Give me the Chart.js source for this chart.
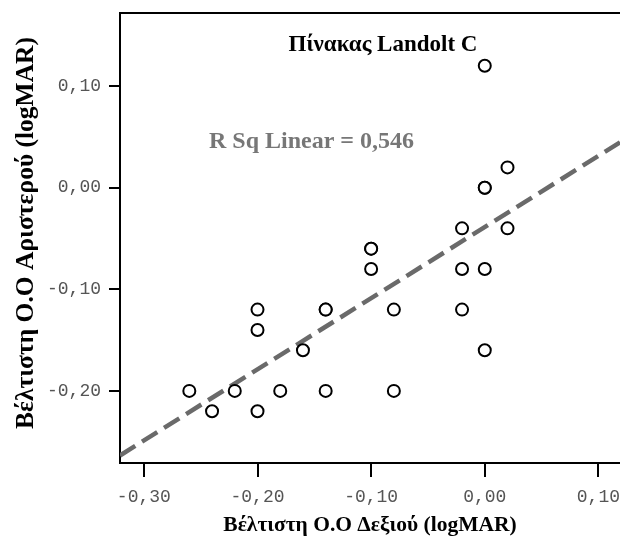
<!DOCTYPE html>
<html>
<head>
<meta charset="utf-8">
<script src="https://cdn.jsdelivr.net/npm/chart.js@4/dist/chart.umd.min.js"></script>
<style>
  html, body { margin: 0; padding: 0; background: #fff; }
</style>
</head>
<body>
<canvas id="diagramma" width="620" height="542"></canvas>
<script>
// Βέλτιστη Ο.Ο Δεξιού (x) / Αριστερού (y), logMAR
const dexio     = [0.00, 0.02, 0.00, 0.00, -0.02, 0.02, -0.10, -0.10, -0.10, -0.02, 0.00, -0.20, -0.14, -0.14, -0.08, -0.02, -0.20, -0.16, 0.00, -0.26, -0.22, -0.18, -0.14, -0.08, -0.24, -0.20];
const aristero  = [0.12, 0.02, 0.00, 0.00, -0.04, -0.04, -0.06, -0.06, -0.08, -0.08, -0.08, -0.12, -0.12, -0.12, -0.12, -0.12, -0.14, -0.16, -0.16, -0.20, -0.20, -0.20, -0.20, -0.20, -0.22, -0.22];
const xTicks = [-0.30, -0.20, -0.10, 0.00, 0.10];
const yTicks = [-0.20, -0.10, 0.00, 0.10];
const xMin = -0.321, xMax = 0.119;
const yMin = -0.271, yMax = 0.172;
const titlos = 'Πίνακας Landolt C';
const rsqText = 'R Sq Linear = 0,546';
const xTitlos = 'Βέλτιστη Ο.Ο Δεξιού (logMAR)';
const yTitlos = 'Βέλτιστη Ο.Ο Αριστερού (logMAR)';

// ευθεία ελαχίστων τετραγώνων
const n = dexio.length;
const mx = dexio.reduce((a, b) => a + b, 0) / n;
const my = aristero.reduce((a, b) => a + b, 0) / n;
let sxy = 0, sxx = 0;
for (let i = 0; i < n; i++) {
  sxy += (dexio[i] - mx) * (aristero[i] - my);
  sxx += (dexio[i] - mx) * (dexio[i] - mx);
}
const klisi = sxy / sxx;
const tomi = my - klisi * mx;
const grammi = [xMin, xMax].map(x => ({ x: x, y: tomi + klisi * x }));

const fmt = v => v.toFixed(2).replace('.', ',');

const keimena = {
  id: 'keimena',
  afterDraw(chart) {
    const ctx = chart.ctx;
    const a = chart.chartArea;
    ctx.save();
    // πάνω πλαίσιο
    ctx.strokeStyle = '#000';
    ctx.lineWidth = 2;
    ctx.beginPath();
    ctx.moveTo(a.left - 1, a.top);
    ctx.lineTo(a.right, a.top);
    ctx.stroke();

    // ετικέτες άξονα x (χωρίς να στενεύει η περιοχή)
    ctx.fillStyle = '#555';
    ctx.textAlign = 'center';
    ctx.textBaseline = 'top';
    ctx.font = '18px "Liberation Mono"';
    xTicks.forEach(v => {
      ctx.fillText(fmt(v), chart.scales.x.getPixelForValue(v), a.bottom + 25);
    });

    ctx.textBaseline = 'alphabetic';
    ctx.fillStyle = '#000';
    ctx.textAlign = 'center';
    ctx.font = 'bold 23px "Liberation Serif"';
    ctx.fillText(titlos, 383, 51);

    ctx.fillStyle = '#777';
    ctx.textAlign = 'left';
    ctx.font = 'bold 24px "Liberation Serif"';
    ctx.fillText(rsqText, 209, 148);

    ctx.fillStyle = '#000';
    ctx.textAlign = 'center';
    ctx.font = 'bold 21.5px "Liberation Serif"';
    ctx.fillText(xTitlos, 370, 531);

    ctx.translate(33, 233);
    ctx.rotate(-Math.PI / 2);
    ctx.font = 'bold 25.5px "Liberation Serif"';
    ctx.fillText(yTitlos, 0, 0);
    ctx.restore();
  }
};

new Chart(document.getElementById('diagramma'), {
  type: 'scatter',
  data: {
    datasets: [
      {
        label: 'Ο.Ο',
        data: dexio.map((x, i) => ({ x: x, y: aristero[i] })),
        pointRadius: 6,
        pointBorderWidth: 2,
        pointBorderColor: '#000',
        pointBackgroundColor: '#fff',
        order: 0
      },
      {
        type: 'line',
        label: 'Linear',
        data: grammi,
        borderColor: '#6a6a6a',
        borderWidth: 4.5,
        borderDash: [18, 8],
        pointRadius: 0,
        fill: false,
        order: 1
      }
    ]
  },
  options: {
    responsive: false,
    devicePixelRatio: 1,
    animation: false,
    layout: { autoPadding: false, padding: { top: 13, right: 0, left: 0, bottom: 0 } },
    plugins: { legend: { display: false }, tooltip: { enabled: false } },
    scales: {
      x: {
        type: 'linear',
        min: xMin,
        max: xMax,
        afterBuildTicks: s => { s.ticks = xTicks.map(v => ({ value: v })); },
        afterFit: s => { s.height = 79; },
        border: { color: '#000', width: 2 },
        grid: { drawOnChartArea: false, color: '#000', lineWidth: 2, tickLength: 14 },
        ticks: { display: false }
      },
      y: {
        type: 'linear',
        min: yMin,
        max: yMax,
        afterBuildTicks: s => { s.ticks = yTicks.map(v => ({ value: v })); },
        afterFit: s => { s.width = 120; s.paddingTop = 0; s.paddingBottom = 0; },
        border: { color: '#000', width: 2 },
        grid: { drawOnChartArea: false, color: '#000', lineWidth: 2, tickLength: 11 },
        ticks: {
          padding: 8,
          color: '#555',
          font: { family: '"Liberation Mono"', size: 18 },
          callback: v => fmt(v)
        }
      }
    }
  },
  plugins: [keimena]
});
</script>
</body>
</html>
